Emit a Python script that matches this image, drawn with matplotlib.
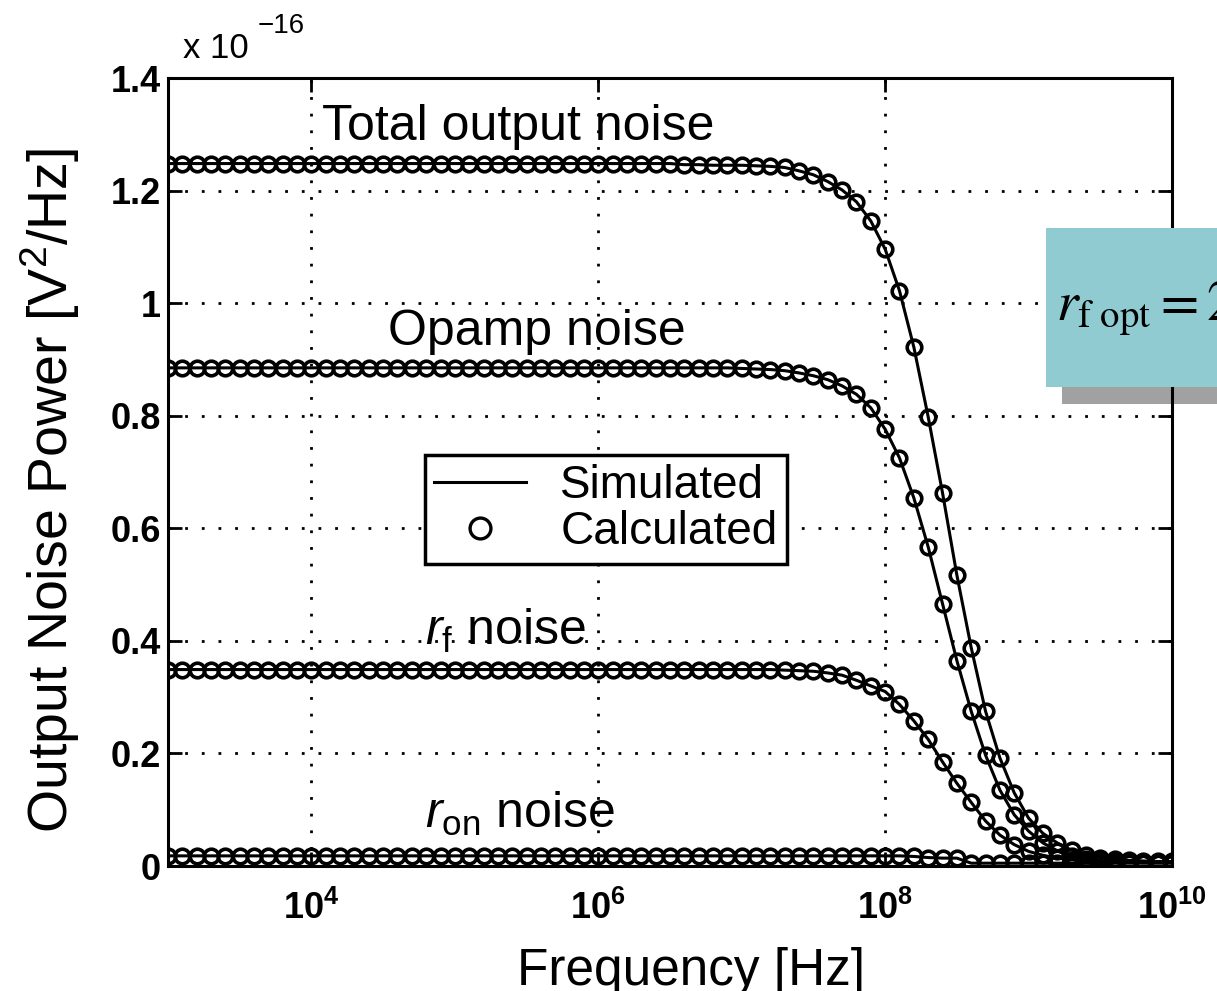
import matplotlib
matplotlib.use('Agg')
import matplotlib.pyplot as plt
from matplotlib.lines import Line2D
from matplotlib.patches import Rectangle
import numpy as np

plt.rcParams['font.family'] = ['Liberation Sans', 'DejaVu Sans']
plt.rcParams['mathtext.fontset'] = 'custom'
plt.rcParams['mathtext.rm'] = 'Liberation Sans'
plt.rcParams['mathtext.it'] = 'Liberation Sans:italic'
plt.rcParams['mathtext.bf'] = 'Liberation Sans:bold'

# frequency samples, 10 per decade from 1e3 to 1e10
freq = np.logspace(3, 10, 71)

# noise power in units of 1e-16 V^2/Hz
total_noise = [
    1.248, 1.248, 1.248, 1.248, 1.248, 1.248, 1.248, 1.248, 1.248, 1.248,
    1.248, 1.248, 1.248, 1.248, 1.248, 1.248, 1.248, 1.248, 1.248, 1.248,
    1.248, 1.248, 1.248, 1.248, 1.248, 1.248, 1.248, 1.248, 1.248, 1.248,
    1.248, 1.248, 1.248, 1.248, 1.248, 1.248, 1.246, 1.246, 1.245, 1.245,
    1.245, 1.244, 1.243, 1.241, 1.235, 1.228, 1.216, 1.201, 1.180, 1.146,
    1.096, 1.022, 0.922, 0.798, 0.663, 0.517, 0.388, 0.275, 0.192, 0.130,
    0.085, 0.058, 0.041, 0.028, 0.020, 0.015, 0.012, 0.010, 0.009, 0.008,
    0.008]
opamp_noise = [
    0.885, 0.885, 0.885, 0.885, 0.885, 0.885, 0.885, 0.885, 0.885, 0.885,
    0.885, 0.885, 0.885, 0.885, 0.885, 0.885, 0.885, 0.885, 0.885, 0.885,
    0.885, 0.885, 0.885, 0.885, 0.885, 0.885, 0.885, 0.885, 0.885, 0.885,
    0.885, 0.885, 0.885, 0.885, 0.885, 0.885, 0.885, 0.885, 0.885, 0.885,
    0.884, 0.883, 0.882, 0.880, 0.876, 0.871, 0.864, 0.853, 0.838, 0.814,
    0.776, 0.725, 0.654, 0.567, 0.466, 0.365, 0.275, 0.197, 0.135, 0.091,
    0.062, 0.041, 0.027, 0.018, 0.013, 0.010, 0.008, 0.007, 0.006, 0.006,
    0.006]
rf_noise = [
    0.349, 0.349, 0.349, 0.349, 0.349, 0.349, 0.349, 0.349, 0.349, 0.349,
    0.349, 0.349, 0.349, 0.349, 0.349, 0.349, 0.349, 0.349, 0.349, 0.349,
    0.349, 0.349, 0.349, 0.349, 0.349, 0.349, 0.349, 0.349, 0.349, 0.349,
    0.349, 0.349, 0.349, 0.349, 0.349, 0.349, 0.349, 0.349, 0.349, 0.349,
    0.349, 0.349, 0.349, 0.348, 0.347, 0.346, 0.343, 0.339, 0.330, 0.320,
    0.310, 0.287, 0.258, 0.225, 0.185, 0.147, 0.113, 0.080, 0.055, 0.038,
    0.026, 0.019, 0.014, 0.011, 0.009, 0.008, 0.007, 0.007, 0.007, 0.007,
    0.007]
ron_noise = [
    0.018, 0.018, 0.018, 0.018, 0.018, 0.018, 0.018, 0.018, 0.018, 0.018,
    0.018, 0.018, 0.018, 0.018, 0.018, 0.018, 0.018, 0.018, 0.018, 0.018,
    0.018, 0.018, 0.018, 0.018, 0.018, 0.018, 0.018, 0.018, 0.018, 0.018,
    0.018, 0.018, 0.018, 0.018, 0.018, 0.018, 0.018, 0.018, 0.018, 0.018,
    0.018, 0.018, 0.018, 0.018, 0.018, 0.018, 0.018, 0.018, 0.018, 0.018,
    0.018, 0.018, 0.017, 0.015, 0.014, 0.014, 0.005, 0.005, 0.005, 0.005,
    0.005, 0.005, 0.005, 0.005, 0.005, 0.005, 0.005, 0.005, 0.005, 0.005,
    0.005]

series = [total_noise, opamp_noise, rf_noise, ron_noise]

ytick_vals = [0, 0.2, 0.4, 0.6, 0.8, 1.0, 1.2, 1.4]
ytick_labels = ['0', '0.2', '0.4', '0.6', '0.8', '1', '1.2', '1.4']
xtick_vals = [1e4, 1e6, 1e8, 1e10]
xtick_labels = [r'$\mathbf{10^{4}}$', r'$\mathbf{10^{6}}$',
                r'$\mathbf{10^{8}}$', r'$\mathbf{10^{10}}$']

fig = plt.figure(figsize=(12.17, 9.91), dpi=100)
ax = fig.add_axes([168 / 1217, 1 - 866 / 991, 1004 / 1217, 788 / 991])

for s in series:
    ax.plot(freq, s, color='k', lw=2.2, zorder=3)
    ax.plot(freq, s, ls='none', marker='o', ms=10.5, mfc='none',
            mec='k', mew=2.6, zorder=4)

ax.set_xscale('log')
ax.set_xlim(1e3, 1e10)
ax.set_ylim(0, 1.4)
ax.set_xticks(xtick_vals)
ax.set_xticklabels(xtick_labels)
ax.xaxis.set_minor_locator(matplotlib.ticker.NullLocator())
ax.set_yticks(ytick_vals)
ax.set_yticklabels(ytick_labels)
ax.tick_params(direction='in', length=10, width=2, top=True, right=True)
ax.tick_params(axis='y', labelsize=26, pad=5)
ax.tick_params(axis='x', labelsize=26, pad=18)
for lbl in ax.get_yticklabels():
    lbl.set_fontweight('bold')
for sp in ax.spines.values():
    sp.set_linewidth(2.2)
ax.grid(True, color='k', ls=(0, (1, 5)), lw=2)

# curve labels
ax.text(0.153, 0.921, 'Total output noise', transform=ax.transAxes,
        fontsize=36, va='baseline')
ax.text(0.219, 0.661, 'Opamp noise', transform=ax.transAxes,
        fontsize=36, va='baseline')
ax.text(0.256, 0.280, r'$r_{\mathrm{f}}$ noise', transform=ax.transAxes,
        fontsize=36, va='baseline')
ax.text(0.256, 0.048, r'$r_{\mathrm{on}}$ noise', transform=ax.transAxes,
        fontsize=36, va='baseline')

handles = [Line2D([], [], color='k', lw=2.2),
           Line2D([], [], ls='none', marker='o', ms=15, mfc='none', mec='k', mew=2.4)]
leg = ax.legend(handles, ['Simulated', 'Calculated'], loc='upper left',
                bbox_to_anchor=(0.256, 0.5216), borderaxespad=0, fontsize=33,
                fancybox=False, edgecolor='k', framealpha=1, handlelength=2.0,
                handletextpad=0.75, borderpad=0.2, labelspacing=0.05)
leg.get_frame().set_linewidth(2.5)

fig.text(183 / 1217, 1 - 58 / 991, 'x 10', fontsize=25, va='baseline')
fig.text(258 / 1217, 1 - 33 / 991, '\u221216', fontsize=20, va='baseline')
fig.text(50 / 1217, 0.505, r'Output Noise Power [V$^{\mathregular{2}}$/Hz]',
         rotation=90, fontsize=40, ha='center', va='center')
fig.text(0.568, 0.006, 'Frequency [Hz]', fontsize=37, ha='center', va='baseline')

# callout box, running off the right edge
shadow = Rectangle((1062 / 1217, 1 - 404 / 991), 0.3, 159 / 991,
                   transform=fig.transFigure, facecolor='k', alpha=0.37,
                   edgecolor='none', zorder=5)
box = Rectangle((1046 / 1217, 1 - 387 / 991), 0.3, 159 / 991,
                transform=fig.transFigure, facecolor='#8fcbd1',
                edgecolor='none', zorder=6)
fig.patches.extend([shadow, box])
fig.text(1056 / 1217, 1 - 320 / 991, r'$r_{\mathrm{f\ opt}} = 2$',
         fontsize=40, math_fontfamily='stix', va='baseline', zorder=7)

fig.savefig('out.png', dpi=100)
